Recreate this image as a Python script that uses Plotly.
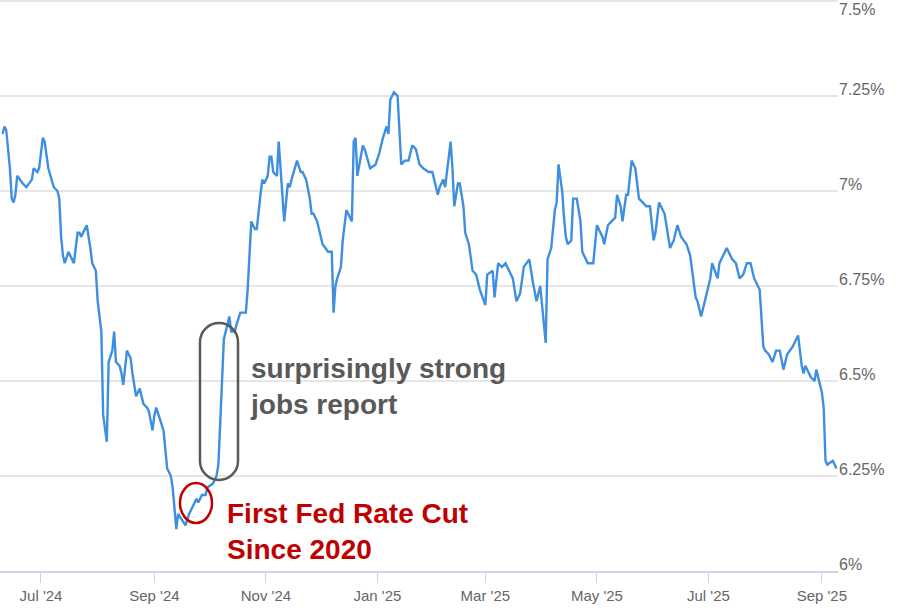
import plotly.graph_objects as go

dates = [
    "2024-06-10", "2024-06-11", "2024-06-12", "2024-06-14", "2024-06-15", "2024-06-16", "2024-06-17",
    "2024-06-18", "2024-06-21", "2024-06-23", "2024-06-26", "2024-06-27", "2024-06-29", "2024-06-30",
    "2024-07-02", "2024-07-03", "2024-07-05", "2024-07-07", "2024-07-08", "2024-07-10", "2024-07-11",
    "2024-07-12", "2024-07-13", "2024-07-14", "2024-07-16", "2024-07-17", "2024-07-19", "2024-07-21",
    "2024-07-22", "2024-07-23", "2024-07-25", "2024-07-26", "2024-07-28", "2024-07-29", "2024-07-31",
    "2024-08-01", "2024-08-03", "2024-08-04", "2024-08-06", "2024-08-07", "2024-08-09", "2024-08-10",
    "2024-08-11", "2024-08-13", "2024-08-14", "2024-08-15", "2024-08-17", "2024-08-19", "2024-08-20",
    "2024-08-22", "2024-08-24", "2024-08-26", "2024-08-28", "2024-08-29", "2024-08-31", "2024-09-01",
    "2024-09-02", "2024-09-04", "2024-09-06", "2024-09-08", "2024-09-10", "2024-09-11", "2024-09-13",
    "2024-09-14", "2024-09-17", "2024-09-18", "2024-09-20", "2024-09-22", "2024-09-24", "2024-09-25",
    "2024-09-27", "2024-09-29", "2024-09-30", "2024-10-03", "2024-10-05", "2024-10-06", "2024-10-07",
    "2024-10-08", "2024-10-09", "2024-10-10", "2024-10-12", "2024-10-13", "2024-10-15", "2024-10-16",
    "2024-10-18", "2024-10-21", "2024-10-22", "2024-10-23", "2024-10-24", "2024-10-26", "2024-10-27",
    "2024-10-29", "2024-10-30", "2024-10-31", "2024-11-02", "2024-11-03", "2024-11-04", "2024-11-05",
    "2024-11-07", "2024-11-08", "2024-11-10", "2024-11-11", "2024-11-13", "2024-11-14", "2024-11-15",
    "2024-11-17", "2024-11-18", "2024-11-20", "2024-11-21", "2024-11-23", "2024-11-25", "2024-11-26",
    "2024-11-27", "2024-11-29", "2024-12-01", "2024-12-02", "2024-12-05", "2024-12-07", "2024-12-08",
    "2024-12-09", "2024-12-10", "2024-12-12", "2024-12-13", "2024-12-15", "2024-12-16", "2024-12-18",
    "2024-12-19", "2024-12-20", "2024-12-21", "2024-12-24", "2024-12-25", "2024-12-28", "2024-12-31",
    "2025-01-02", "2025-01-04", "2025-01-06", "2025-01-07", "2025-01-08", "2025-01-10", "2025-01-12",
    "2025-01-14", "2025-01-16", "2025-01-18", "2025-01-20", "2025-01-22", "2025-01-24", "2025-01-26",
    "2025-01-29", "2025-01-31", "2025-02-03", "2025-02-04", "2025-02-06", "2025-02-07", "2025-02-10",
    "2025-02-11", "2025-02-12", "2025-02-14", "2025-02-15", "2025-02-17", "2025-02-18", "2025-02-20",
    "2025-02-22", "2025-02-24", "2025-02-26", "2025-03-01", "2025-03-02", "2025-03-05", "2025-03-06",
    "2025-03-08", "2025-03-10", "2025-03-12", "2025-03-16", "2025-03-18", "2025-03-20", "2025-03-22",
    "2025-03-25", "2025-03-27", "2025-03-29", "2025-03-31", "2025-04-03", "2025-04-04", "2025-04-06",
    "2025-04-08", "2025-04-09", "2025-04-10", "2025-04-12", "2025-04-13", "2025-04-14", "2025-04-15",
    "2025-04-17", "2025-04-18", "2025-04-20", "2025-04-22", "2025-04-23", "2025-04-26", "2025-04-29",
    "2025-05-01", "2025-05-04", "2025-05-05", "2025-05-07", "2025-05-09", "2025-05-11", "2025-05-12",
    "2025-05-14", "2025-05-15", "2025-05-17", "2025-05-18", "2025-05-20", "2025-05-22", "2025-05-24",
    "2025-05-26", "2025-05-28", "2025-05-30", "2025-06-01", "2025-06-02", "2025-06-04", "2025-06-07",
    "2025-06-10", "2025-06-12", "2025-06-14", "2025-06-16", "2025-06-19", "2025-06-21", "2025-06-24",
    "2025-06-25", "2025-06-27", "2025-06-30", "2025-07-02", "2025-07-03", "2025-07-06", "2025-07-07",
    "2025-07-11", "2025-07-14", "2025-07-16", "2025-07-18", "2025-07-20", "2025-07-22", "2025-07-24",
    "2025-07-26", "2025-07-28", "2025-07-29", "2025-07-31", "2025-08-01", "2025-08-03", "2025-08-05",
    "2025-08-07", "2025-08-09", "2025-08-11", "2025-08-13", "2025-08-16", "2025-08-19", "2025-08-21",
    "2025-08-22", "2025-08-23", "2025-08-26", "2025-08-28", "2025-08-29", "2025-09-01", "2025-09-02",
    "2025-09-03", "2025-09-04", "2025-09-07", "2025-09-08", "2025-09-09",
]

rates = [
    7.15, 7.17, 7.16, 7.06, 6.98, 6.97, 6.99,
    7.04, 7.02, 7.01, 7.03, 7.06, 7.05, 7.06,
    7.14, 7.13, 7.06, 7.03, 7.01, 7.00, 6.98,
    6.88, 6.83, 6.81, 6.84, 6.83, 6.81, 6.89,
    6.89, 6.88, 6.90, 6.91, 6.85, 6.81, 6.79,
    6.71, 6.63, 6.41, 6.34, 6.55, 6.58, 6.63,
    6.55, 6.54, 6.52, 6.49, 6.58, 6.56, 6.52,
    6.46, 6.48, 6.44, 6.43, 6.42, 6.37, 6.41,
    6.43, 6.40, 6.37, 6.27, 6.25, 6.22, 6.11,
    6.15, 6.13, 6.12, 6.15, 6.17, 6.19, 6.18,
    6.20, 6.20, 6.22, 6.23, 6.25, 6.28, 6.39,
    6.54, 6.61, 6.63, 6.67, 6.63, 6.63, 6.65,
    6.68, 6.68, 6.74, 6.83, 6.92, 6.90, 6.90,
    6.99, 7.03, 7.02, 7.04, 7.09, 7.09, 7.05,
    7.04, 7.13, 6.99, 6.92, 7.02, 7.01, 7.03,
    7.06, 7.08, 7.05, 7.05, 7.03, 6.98, 6.94,
    6.94, 6.92, 6.88, 6.86, 6.84, 6.84, 6.68,
    6.75, 6.77, 6.80, 6.87, 6.95, 6.94, 6.92,
    7.13, 7.14, 7.04, 7.12, 7.11, 7.06, 7.07,
    7.10, 7.14, 7.17, 7.15, 7.24, 7.26, 7.25,
    7.07, 7.08, 7.08, 7.12, 7.11, 7.07, 7.06,
    7.05, 7.05, 6.99, 7.01, 7.03, 7.01, 7.13,
    7.06, 6.96, 7.02, 7.02, 6.96, 6.89, 6.86,
    6.79, 6.78, 6.74, 6.70, 6.78, 6.79, 6.72,
    6.81, 6.80, 6.81, 6.77, 6.71, 6.73, 6.80,
    6.82, 6.76, 6.71, 6.75, 6.60, 6.82, 6.85,
    6.95, 6.97, 7.07, 7.00, 6.93, 6.88, 6.86,
    6.87, 6.98, 6.98, 6.92, 6.84, 6.81, 6.81,
    6.91, 6.88, 6.86, 6.91, 6.92, 6.93, 6.99,
    6.96, 6.92, 6.99, 6.99, 7.08, 7.06, 6.98,
    6.97, 6.96, 6.96, 6.87, 6.89, 6.97, 6.94,
    6.85, 6.87, 6.91, 6.88, 6.86, 6.83, 6.72,
    6.71, 6.67, 6.73, 6.77, 6.81, 6.77, 6.81,
    6.85, 6.82, 6.81, 6.77, 6.78, 6.81, 6.81,
    6.77, 6.75, 6.74, 6.59, 6.58, 6.57, 6.55,
    6.58, 6.58, 6.53, 6.57, 6.59, 6.62, 6.54,
    6.52, 6.54, 6.51, 6.50, 6.53, 6.47, 6.43,
    6.29, 6.28, 6.29, 6.28, 6.27,
]

y_ticks = [6.0, 6.25, 6.5, 6.75, 7.0, 7.25, 7.5]
y_tick_labels = ["6%", "6.25%", "6.5%", "6.75%", "7%", "7.25%", ""]
top_label = "7.5%"
x_ticks = ["2024-07-01", "2024-09-01", "2024-11-01", "2025-01-01",
           "2025-03-01", "2025-05-01", "2025-07-01", "2025-09-01"]
x_tick_labels = ["Jul '24", "Sep '24", "Nov '24", "Jan '25",
                 "Mar '25", "May '25", "Jul '25", "Sep '25"]

W, H = 909, 614
ML, MR, MT, MB = 0, 71, 0, 43
PW, PH = W - ML - MR, H - MT - MB


def px(x):
    return x / PW


def py(y):
    return 1 - y / PH


fig = go.Figure()
fig.add_trace(go.Scatter(
    x=dates, y=rates, mode="lines",
    line=dict(color="#3f8fe0", width=2.4),
    hoverinfo="skip", showlegend=False,
))

# rounded "stadium" around the jump
x0, x1, y0, y1, r = 200, 238, 323, 480, 19
k = 0.5523 * r
pts = [
    ("M", [(x0, y0 + r)]),
    ("L", [(x0, y1 - r)]),
    ("C", [(x0, y1 - r + k), (x0 + r - k, y1), (x0 + r, y1)]),
    ("C", [(x1 - r + k, y1), (x1, y1 - r + k), (x1, y1 - r)]),
    ("L", [(x1, y0 + r)]),
    ("C", [(x1, y0 + r - k), (x1 - r + k, y0), (x1 - r, y0)]),
    ("C", [(x0 + r - k, y0), (x0, y0 + r - k), (x0, y0 + r)]),
]
path = ""
for cmd, ps in pts:
    path += cmd + " ".join(f"{px(a):.5f},{py(b):.5f}" for a, b in ps) + " "
path += "Z"
fig.add_shape(type="path", path=path, xref="paper", yref="paper",
              line=dict(color="#595959", width=2.5), fillcolor="rgba(0,0,0,0)")

fig.add_shape(type="circle", xref="paper", yref="paper",
              x0=px(180), x1=px(212), y0=py(523), y1=py(483),
              line=dict(color="#c00000", width=2.5))

fig.add_annotation(xref="paper", yref="paper", x=px(248), y=py(386),
                   xanchor="left", yanchor="middle", align="left", showarrow=False,
                   text="<b>surprisingly strong<br>jobs report</b>",
                   font=dict(family="Liberation Sans, Arial, sans-serif", size=28, color="#595959"))
fig.add_annotation(xref="paper", yref="paper", x=px(225), y=py(531),
                   xanchor="left", yanchor="middle", align="left", showarrow=False,
                   text="<b>First Fed Rate Cut<br>Since 2020</b>",
                   font=dict(family="Liberation Sans, Arial, sans-serif", size=28, color="#c00000"))
fig.add_annotation(xref="paper", yref="paper", x=1.0, y=1.0,
                   xanchor="left", yanchor="top", align="left", showarrow=False,
                   text=top_label, borderpad=0,
                   font=dict(family="Liberation Sans, Arial, sans-serif", size=16, color="#666666"))

fig.update_layout(
    width=W, height=H,
    margin=dict(l=ML, r=MR, t=MT, b=MB, pad=0),
    paper_bgcolor="white", plot_bgcolor="white",
    template="none",
    font=dict(family="Liberation Sans, Arial, sans-serif", color="#666666"),
    xaxis=dict(
        type="date",
        range=["2024-06-08 14:00", "2025-09-09 20:00"],
        tickvals=x_ticks, ticktext=x_tick_labels,
        showgrid=False, zeroline=False,
        showline=True, linecolor="#ccd6eb", linewidth=1.5,
        ticks="outside", ticklen=10, tickcolor="#ccd6eb", tickwidth=1,
        tickfont=dict(size=15, color="#666666"),
        automargin=False,
    ),
    yaxis=dict(
        side="right",
        range=[6.0, 7.5027],
        tickvals=y_ticks, ticktext=y_tick_labels,
        showgrid=True, gridcolor="#e6e6e6", gridwidth=1.5,
        zeroline=False, showline=False, ticks="",
        tickfont=dict(size=16, color="#666666"),
        ticklabelshift=-7, ticklabelstandoff=0,
        automargin=False,
    ),
)

fig.write_html("out.html", config={"displayModeBar": False},
               post_script="document.body.style.margin='0';")
